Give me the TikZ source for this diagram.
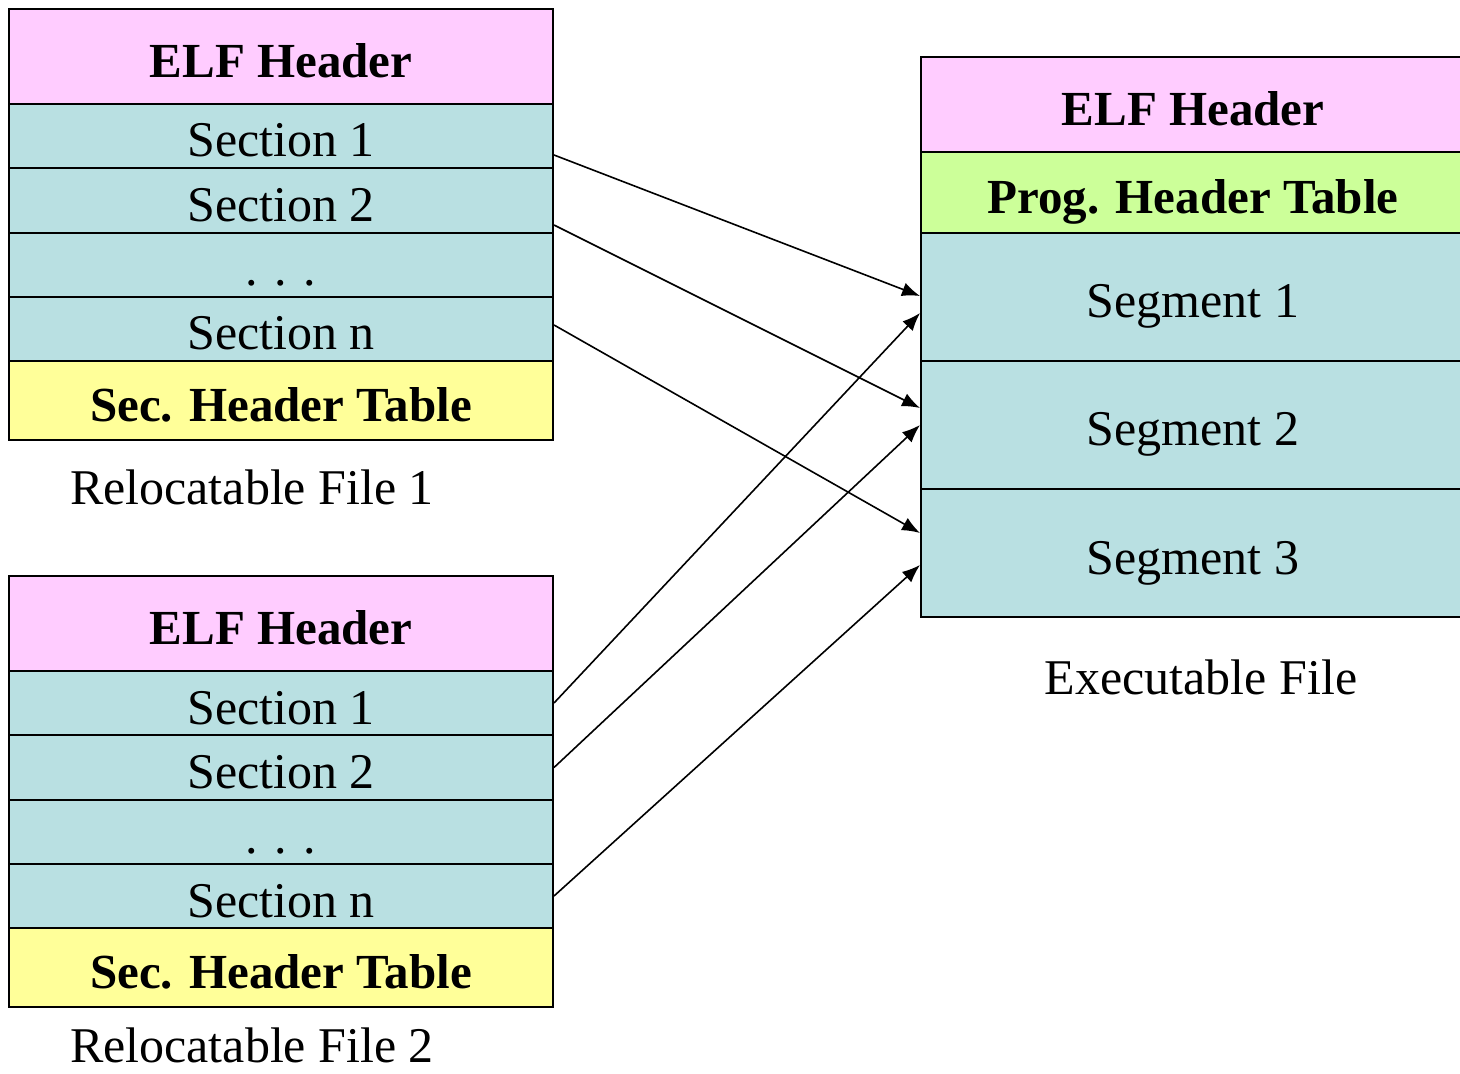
\documentclass[tikz,border=0pt]{standalone}
\usepackage{fontspec}
\setmainfont{Liberation Serif}
\usetikzlibrary{calc,arrows.meta}
\definecolor{hdrpink}{RGB}{255,204,255}
\definecolor{sectcyan}{RGB}{185,224,226}
\definecolor{shtyellow}{RGB}{255,255,153}
\definecolor{phtgreen}{RGB}{204,255,153}
\begin{document}
\begin{tikzpicture}[x=0.5pt,y=-0.5pt,
  row/.style={draw=black,line width=1pt,rectangle,inner sep=0pt,
    minimum width=272pt,text height=21pt,text depth=0pt,
    font=\fontsize{25}{30}\selectfont},
  bfrow/.style={font=\fontsize{24.5}{29}\selectfont\bfseries},
  hdr/.style={row,bfrow,fill=hdrpink,minimum height=47.5pt},
  sect/.style={row,fill=sectcyan,minimum height=32pt},
  sht/.style={row,bfrow,fill=shtyellow,minimum height=39.5pt},
  pht/.style={row,bfrow,fill=phtgreen,minimum height=40.5pt},
  seg/.style={row,fill=sectcyan,minimum height=64pt},
  filelabel/.style={anchor=base,inner sep=0pt,font=\fontsize{25}{30}\selectfont},
  conn/.style={line width=0.8pt,-{Latex[length=9pt,width=7pt]}}]
\useasboundingbox (0,0) rectangle (1460,1074);
\clip (0,0) rectangle (1460,1074);
% Relocatable file 1
\node[hdr]  (e1) at (281,56.5) {ELF Header};
\node[sect] (a1) at (281,136) {Section 1};
\node[sect,minimum height=32.5pt] (b1) at (281,200.5) {Section 2};
\node[sect] (d1) at (281,265) {. . .};
\node[sect] (n1) at (281,329) {Section n};
\node[sht]  (t1) at (281,400.5) {Sec. Header Table};
\node[filelabel] (l1) at (252,504) {Relocatable File 1};
% Relocatable file 2
\node[hdr]  (e2) at (281,623.5) {ELF Header};
\node[sect] (a2) at (281,703) {Section 1};
\node[sect,minimum height=32.5pt] (b2) at (281,767.5) {Section 2};
\node[sect] (d2) at (281,832) {. . .};
\node[sect] (n2) at (281,896) {Section n};
\node[sht]  (t2) at (281,967.5) {Sec. Header Table};
\node[filelabel] (l2) at (252,1062) {Relocatable File 2};
% Executable file
\node[hdr]  (ee) at (1193,104.5) {ELF Header};
\node[pht]  (pe) at (1193,192.5) {Prog. Header Table};
\node[seg]  (s1) at (1193,297) {Segment 1};
\node[seg]  (s2) at (1193,425) {Segment 2};
\node[seg]  (s3) at (1193,553) {Segment 3};
\node[filelabel] (le) at (1201,694) {Executable File};
% connectors
\draw[conn] ($(a1.east)+(0,19)$) -- ($(s1.west)+(0,-1)$);
\draw[conn] ($(b1.east)+(0,24.5)$) -- ($(s2.west)+(0,-17)$);
\draw[conn] ($(n1.east)+(0,-4)$) -- ($(s3.west)+(0,-20)$);
\draw[conn] (a2.east) -- ($(s1.west)+(0,16)$);
\draw[conn] (b2.east) -- (s2.west);
\draw[conn] (n2.east) -- ($(s3.west)+(0,12)$);
\end{tikzpicture}
\end{document}
